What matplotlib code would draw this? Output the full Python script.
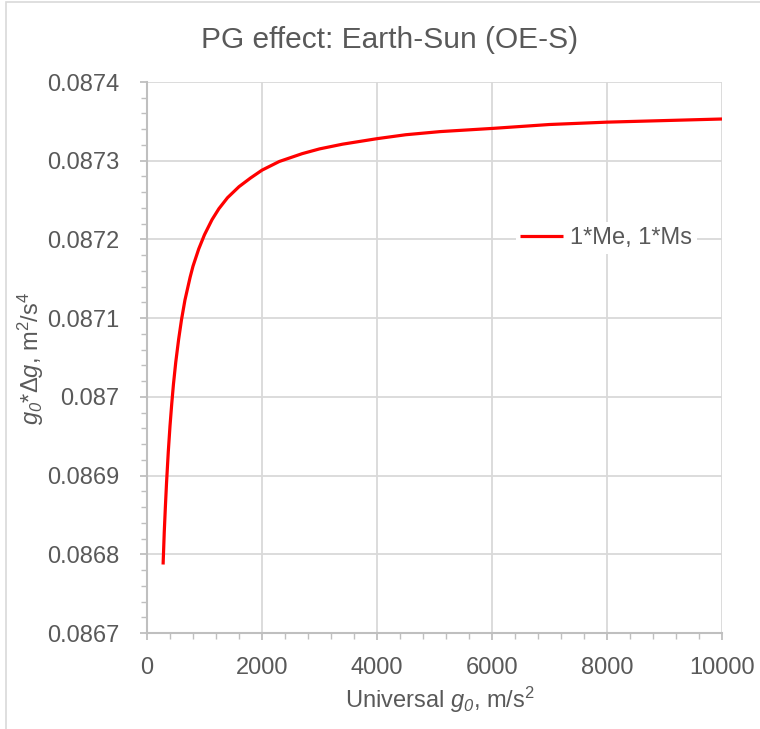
import matplotlib
matplotlib.use('Agg')
import matplotlib.pyplot as plt
from matplotlib.ticker import MultipleLocator, FuncFormatter
from matplotlib.patches import Rectangle

# values
g0 = [280, 300, 320, 340, 370, 400, 430, 460, 500, 550, 600, 660, 750,
      800, 900, 1000, 1130, 1250, 1400, 1600, 1800, 2000, 2300, 2700,
      3000, 3400, 4000, 4500, 5100, 6000, 7000, 8000, 9000, 10000]
g0_dg = [0.086787, 0.086828, 0.086861, 0.086891, 0.086930, 0.086963,
         0.086991, 0.087016, 0.087044, 0.087073, 0.087098, 0.087123,
         0.087152, 0.087166, 0.087188, 0.087206, 0.087225, 0.087239,
         0.087253, 0.087267, 0.087278, 0.087288, 0.087299, 0.087309,
         0.087315, 0.087321, 0.087328, 0.087333, 0.087337, 0.087341,
         0.087346, 0.087349, 0.087351, 0.087353]
series_label = '1*Me, 1*Ms'
title = 'PG effect: Earth-Sun (OE-S)'

plt.rcParams['font.family'] = ['Liberation Sans', 'DejaVu Sans']
plt.rcParams['mathtext.fontset'] = 'custom'
plt.rcParams['mathtext.rm'] = 'Liberation Sans'
plt.rcParams['mathtext.it'] = 'Liberation Sans:italic'
# used for the italic subscript digit
plt.rcParams['mathtext.cal'] = 'Liberation Sans:italic'

txt = '#595959'
grid_c = '#d9d9d9'
axis_c = '#bfbfbf'

fig = plt.figure(figsize=(7.6, 7.29), dpi=100)
# chart area border (only top/left visible in the reference)
fig.patches.append(Rectangle((6 / 760, -0.1), 1.2, 1.1 - 2 / 729,
                             transform=fig.transFigure, fill=False,
                             edgecolor='#d9d9d9', linewidth=1.2))

ax = fig.add_axes([147 / 760, 96 / 729, 575 / 760, 551 / 729])
ax.plot(g0, g0_dg, color='#ff0000', linewidth=2.3, label=series_label,
        solid_capstyle='butt', zorder=3)

ax.set_xlim(0, 10000)
ax.set_ylim(0.0867, 0.0874)
ax.xaxis.set_major_locator(MultipleLocator(2000))
ax.xaxis.set_minor_locator(MultipleLocator(400))
ax.yaxis.set_major_locator(MultipleLocator(0.0001))
ax.yaxis.set_minor_locator(MultipleLocator(0.00002))
ax.yaxis.set_major_formatter(FuncFormatter(lambda v, p: ('%.4f' % v).rstrip('0')))
ax.xaxis.set_major_formatter(FuncFormatter(lambda v, p: '%d' % round(v)))

ax.grid(True, which='major', color=grid_c, linewidth=1.3, zorder=0)
for s in ['top', 'right']:
    ax.spines[s].set_visible(False)
for s in ['left', 'bottom']:
    ax.spines[s].set_color(axis_c)
    ax.spines[s].set_linewidth(1.5)
ax.tick_params(which='major', direction='out', length=5, width=1.3,
               color=axis_c, labelcolor=txt, labelsize=17)
ax.tick_params(which='minor', direction='out', length=4, width=1.0,
               color=axis_c)
ax.tick_params(axis='y', which='major', pad=15)
ax.tick_params(axis='x', which='major', pad=12)

leg = ax.legend(loc='center right', bbox_to_anchor=(0.956, 0.717),
                fontsize=17, frameon=True, handlelength=1.8,
                handletextpad=0.3, borderpad=0.2, borderaxespad=0)
leg.get_frame().set_facecolor('white')
leg.get_frame().set_edgecolor('none')
leg.get_frame().set_alpha(1)
for t in leg.get_texts():
    t.set_color(txt)

fig.text(390 / 760, 1 - 40 / 729, title, ha='center', va='center',
         fontsize=21.5, color=txt)
fig.text(440 / 760, 1 - 700 / 729, r'Universal $g_{\mathcal{0}}$, m/s$^2$',
         ha='center', va='center', fontsize=17, color=txt)
fig.text(31 / 760, 1 - 358 / 729,
         r'$g_{\mathcal{0}}$*$\mathit{\Delta g}$, m$^2$/s$^4$',
         ha='center', va='center', rotation=90, fontsize=17, color=txt)

fig.savefig('out.png', dpi=100)
plt.close(fig)
